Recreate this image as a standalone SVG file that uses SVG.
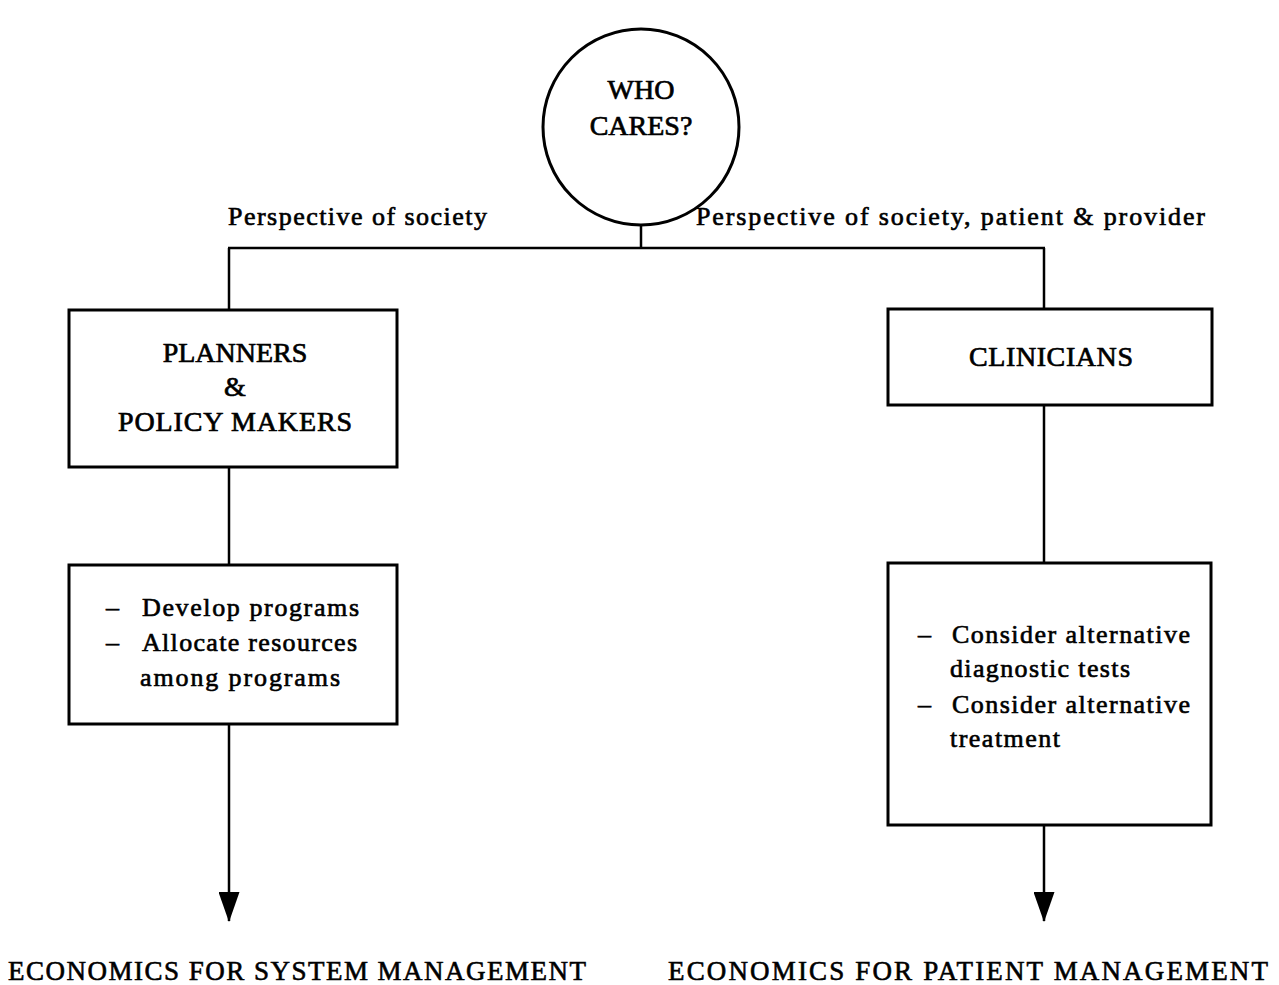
<svg xmlns="http://www.w3.org/2000/svg" width="1279" height="985" viewBox="0 0 1279 985">
<defs>
<marker id="arr" markerWidth="30" markerHeight="21" refX="29" refY="10.5" orient="auto" markerUnits="userSpaceOnUse" viewBox="0 0 30 21">
<path d="M0,0 L30,10.5 L0,21 Z" fill="#000"/>
</marker>
<style>
.ln{stroke:#000;stroke-width:2.5;fill:none}
.bx{stroke:#000;stroke-width:3;fill:#fff}
.t{font-family:"Liberation Serif","Times New Roman",serif;font-size:28px;fill:#000;stroke:#000;stroke-width:0.7}
.s{font-family:"Liberation Serif","Times New Roman",serif;font-size:26px;fill:#000;stroke:#000;stroke-width:0.65}
.b{font-family:"Liberation Serif","Times New Roman",serif;font-size:27px;fill:#000;stroke:#000;stroke-width:0.6}
.c{text-anchor:middle}
</style>
</defs>
<rect width="1279" height="985" fill="#fff"/>
<g id="connectors">
<line class="ln" x1="641" y1="226" x2="641" y2="248"/>
<line class="ln" x1="228" y1="248" x2="1045" y2="248"/>
<line class="ln" x1="229" y1="248" x2="229" y2="310"/>
<line class="ln" x1="1044" y1="248" x2="1044" y2="309"/>
<line class="ln" x1="229" y1="467" x2="229" y2="565"/>
<line class="ln" x1="1044" y1="405" x2="1044" y2="563"/>
<line class="ln" x1="229" y1="724" x2="229" y2="921" marker-end="url(#arr)"/>
<line class="ln" x1="1044" y1="825" x2="1044" y2="921" marker-end="url(#arr)"/>
</g>
<g id="who-cares">
<circle cx="641" cy="127" r="98" class="bx"/>
<text class="t c" x="641" y="99">WHO</text>
<text class="t c" x="641" y="135">CARES?</text>
</g>
<g id="label-left">
<text class="s" x="228" y="225" textLength="259" lengthAdjust="spacing">Perspective of society</text>
</g>
<g id="label-right">
<text class="s" x="696" y="225" textLength="509" lengthAdjust="spacing">Perspective of society, patient &amp; provider</text>
</g>
<g id="planners">
<rect x="69" y="310" width="328" height="157" class="bx"/>
<text class="t c" x="235" y="362">PLANNERS</text>
<text class="t c" x="235" y="396">&amp;</text>
<text class="t" x="118" y="431" textLength="234" lengthAdjust="spacing">POLICY MAKERS</text>
</g>
<g id="planner-tasks">
<rect x="69" y="565" width="328" height="159" class="bx"/>
<text class="s" x="106" y="616">–</text>
<text class="s" x="142" y="616" textLength="217" lengthAdjust="spacing">Develop programs</text>
<text class="s" x="106" y="651">–</text>
<text class="s" x="142" y="651" textLength="215" lengthAdjust="spacing">Allocate resources</text>
<text class="s" x="140" y="686" textLength="200" lengthAdjust="spacing">among programs</text>
</g>
<g id="clinicians">
<rect x="888" y="309" width="324" height="96" class="bx"/>
<text class="t" x="969" y="366" textLength="164" lengthAdjust="spacing">CLINICIANS</text>
</g>
<g id="clinician-tasks">
<rect x="888" y="563" width="323" height="262" class="bx"/>
<text class="s" x="918" y="643">–</text>
<text class="s" x="952" y="643" textLength="238" lengthAdjust="spacing">Consider alternative</text>
<text class="s" x="950" y="677" textLength="180" lengthAdjust="spacing">diagnostic tests</text>
<text class="s" x="918" y="713">–</text>
<text class="s" x="952" y="713" textLength="238" lengthAdjust="spacing">Consider alternative</text>
<text class="s" x="950" y="747" textLength="110" lengthAdjust="spacing">treatment</text>
</g>
<g id="outcome-left">
<text class="b" x="8" y="980" textLength="578" lengthAdjust="spacing">ECONOMICS FOR SYSTEM MANAGEMENT</text>
</g>
<g id="outcome-right">
<text class="b" x="668" y="980" textLength="600" lengthAdjust="spacing">ECONOMICS FOR PATIENT MANAGEMENT</text>
</g>
</svg>
